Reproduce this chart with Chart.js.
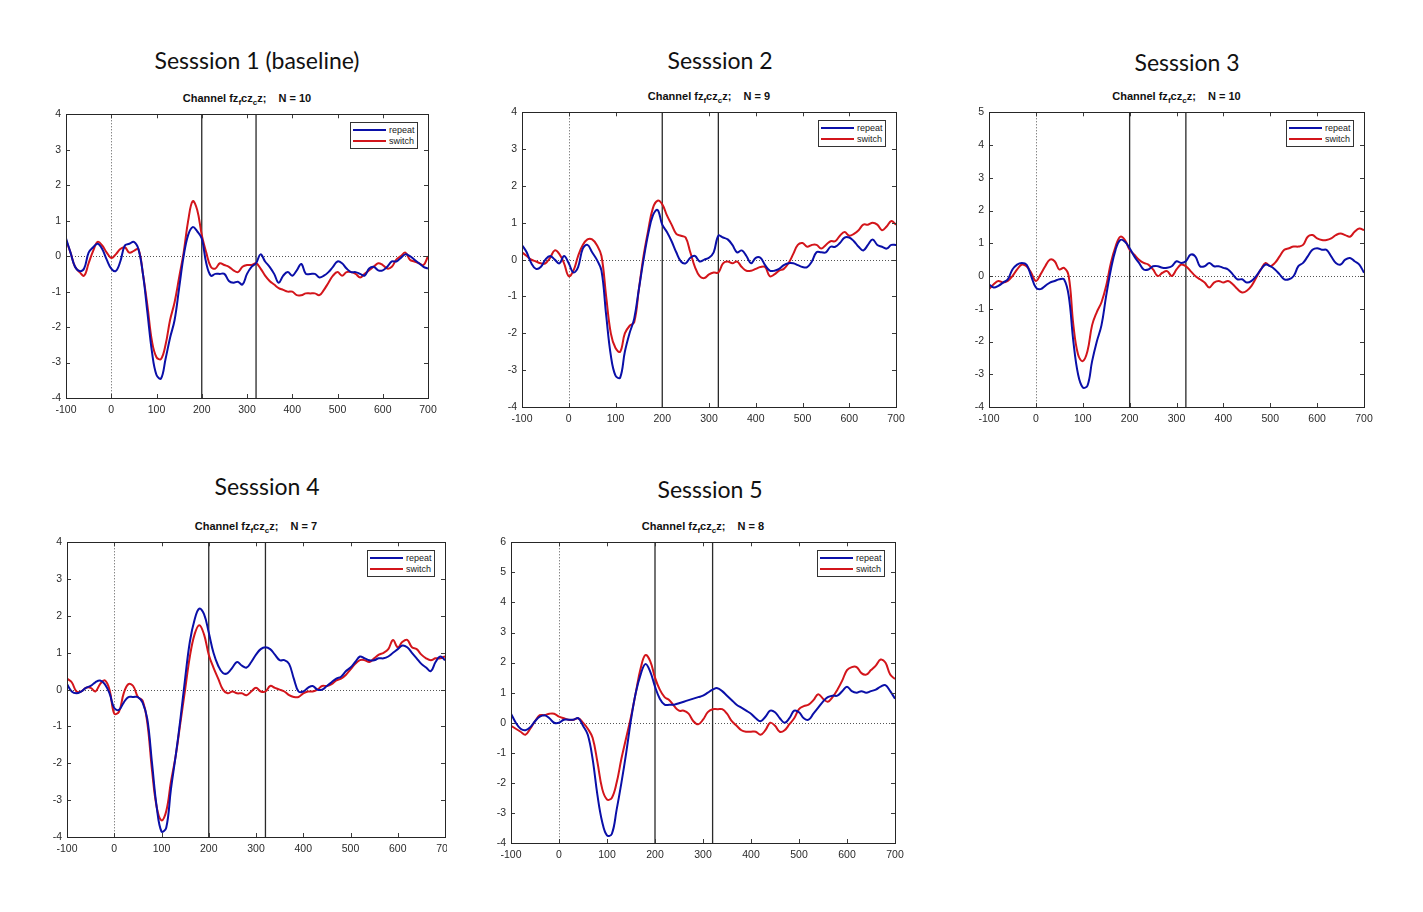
<!DOCTYPE html>
<html>
<head>
<meta charset="utf-8">
<script src="https://cdn.jsdelivr.net/npm/chart.js@4.4.1/dist/chart.umd.min.js"></script>
<style>
  body { margin: 0; background: #fff; width: 1423px; height: 912px; position: relative; overflow: hidden; font-family: "Liberation Sans", Arial, sans-serif; }
  canvas { position: absolute; }
  .session { position: absolute; font-family: Lato, sans-serif; font-size: 23px; color: #111; white-space: nowrap; transform: translate(-50%, -50%); }
  .chan { position: absolute; font-weight: bold; font-size: 11px; color: #111; white-space: nowrap; transform: translate(-50%, -50%); }
  .chan sub { font-size: 8px; vertical-align: -3px; }
  .legend { position: absolute; width: 66px; height: 25px; border: 1px solid #333; background: #fff; font-size: 9px; color: #222; }
  .legend .row { position: absolute; left: 2px; height: 10px; line-height: 10px; }
  .legend .ln { position: absolute; left: 0; top: 4px; width: 33px; height: 2px; }
  .legend .tx { position: absolute; left: 36px; top: 0; }
</style>
</head>
<body>
<script>
// time axis (ms) and tick labels
const TIMES = [-100, -90, -80, -70, -60, -50, -40, -30, -20, -10,
  0, 10, 20, 30, 40, 50, 60, 70, 80, 90,
  100, 110, 120, 130, 140, 150, 160, 170, 180, 190,
  200, 210, 220, 230, 240, 250, 260, 270, 280, 290,
  300, 310, 320, 330, 340, 350, 360, 370, 380, 390,
  400, 410, 420, 430, 440, 450, 460, 470, 480, 490,
  500, 510, 520, 530, 540, 550, 560, 570, 580, 590,
  600, 610, 620, 630, 640, 650, 660, 670, 680, 690, 700];
const X_TICKS = [-100, 0, 100, 200, 300, 400, 500, 600, 700];
const MARKERS = [200, 320];
const SERIES_NAMES = ['repeat', 'switch'];

// Session 1 (baseline), N = 10
const S1_REPEAT = [0.5, 0.1, -0.3, -0.42, -0.35, 0.1, 0.25, 0.35, 0.2, -0.1,
  -0.35, -0.42, -0.15, 0.3, 0.35, 0.4, 0.2, -0.5, -1.6, -2.7,
  -3.35, -3.45, -2.9, -2.3, -1.8, -0.9, 0.0, 0.6, 0.82, 0.7,
  0.5, -0.2, -0.55, -0.5, -0.5, -0.5, -0.7, -0.75, -0.72, -0.8,
  -0.5, -0.3, -0.2, 0.05, -0.15, -0.3, -0.5, -0.75, -0.55, -0.45,
  -0.55, -0.4, -0.22, -0.5, -0.5, -0.5, -0.6, -0.55, -0.45, -0.3,
  -0.15, -0.2, -0.35, -0.45, -0.45, -0.5, -0.55, -0.35, -0.3, -0.4,
  -0.4, -0.3, -0.15, -0.15, -0.05, 0.05, 0.0, -0.1, -0.2, -0.3, -0.35];
const S1_SWITCH = [0.45, 0.1, -0.3, -0.45, -0.55, -0.2, 0.15, 0.4, 0.3, 0.1,
  -0.05, 0.05, 0.2, 0.25, 0.1, 0.15, 0.2, -0.5, -1.4, -2.4,
  -2.85, -2.9, -2.5, -1.8, -1.3, -0.6, 0.1, 1.0, 1.55, 1.3,
  0.6, 0.1, -0.3, -0.35, -0.2, -0.25, -0.3, -0.4, -0.45, -0.3,
  -0.25, -0.25, -0.2, -0.35, -0.55, -0.7, -0.8, -0.9, -0.95, -1.0,
  -1.0, -1.1, -1.1, -1.05, -1.05, -1.05, -1.1, -0.95, -0.75, -0.55,
  -0.45, -0.55, -0.45, -0.45, -0.5, -0.6, -0.5, -0.4, -0.3, -0.2,
  -0.25, -0.35, -0.3, -0.1, 0.0, 0.1, -0.1, -0.15, -0.2, -0.25, 0.0];

// Session 2, N = 9
const S2_REPEAT = [0.4, 0.2, -0.1, -0.25, -0.2, 0.0, 0.1, 0.0, -0.1, 0.1,
  -0.1, -0.35, -0.2, 0.3, 0.4, 0.2, 0.0, -0.3, -1.5, -2.6,
  -3.15, -3.2, -2.5, -2.0, -1.6, -0.8, 0.0, 0.7, 1.2, 1.35,
  0.95, 0.75, 0.5, 0.2, -0.05, -0.1, 0.05, 0.1, -0.05, 0.0,
  0.05, 0.2, 0.65, 0.6, 0.55, 0.4, 0.2, 0.25, 0.1, -0.1,
  0.05, 0.05, -0.15, -0.3, -0.3, -0.25, -0.15, -0.1, -0.1, -0.15,
  -0.2, -0.2, -0.05, 0.2, 0.2, 0.2, 0.35, 0.35, 0.45, 0.6,
  0.6, 0.5, 0.35, 0.25, 0.4, 0.55, 0.4, 0.35, 0.3, 0.4, 0.4];
const S2_SWITCH = [0.2, 0.1, 0.0, -0.05, -0.1, -0.1, 0.05, 0.25, 0.15, -0.1,
  -0.45, -0.3, 0.1, 0.4, 0.55, 0.55, 0.4, 0.1, -1.0, -2.0,
  -2.4, -2.5, -2.0, -1.8, -1.7, -0.8, 0.1, 0.8, 1.4, 1.6,
  1.5, 1.2, 0.95, 0.7, 0.65, 0.6, 0.2, -0.2, -0.45, -0.5,
  -0.4, -0.35, -0.35, -0.1, -0.05, -0.1, -0.05, -0.2, -0.3, -0.3,
  -0.25, -0.2, -0.2, -0.45, -0.4, -0.3, -0.25, -0.1, 0.15, 0.4,
  0.45, 0.35, 0.4, 0.4, 0.3, 0.4, 0.5, 0.5, 0.65, 0.75,
  0.65, 0.7, 0.8, 0.95, 0.95, 1.0, 0.95, 0.8, 0.9, 1.05, 0.95];

// Session 3, N = 10
const S3_REPEAT = [-0.25, -0.35, -0.3, -0.2, -0.1, 0.2, 0.35, 0.4, 0.35, 0.0,
  -0.35, -0.4, -0.3, -0.2, -0.15, -0.1, -0.1, -0.6, -2.0, -3.0,
  -3.4, -3.35, -2.6, -2.0, -1.5, -0.6, 0.2, 0.8, 1.1, 1.05,
  0.85, 0.6, 0.4, 0.2, 0.2, 0.3, 0.3, 0.25, 0.25, 0.3,
  0.45, 0.4, 0.45, 0.65, 0.6, 0.3, 0.3, 0.4, 0.3, 0.3,
  0.25, 0.2, 0.05, -0.1, -0.1, -0.2, -0.15, 0.0, 0.2, 0.35,
  0.3, 0.2, 0.05, -0.1, -0.1, 0.0, 0.3, 0.4, 0.6, 0.8,
  0.85, 0.8, 0.8, 0.6, 0.4, 0.35, 0.5, 0.55, 0.45, 0.35, 0.1];
const S3_SWITCH = [-0.4, -0.25, -0.15, -0.2, -0.15, 0.0, 0.2, 0.35, 0.3, 0.1,
  -0.15, 0.05, 0.3, 0.5, 0.45, 0.2, 0.25, 0.0, -1.5, -2.4,
  -2.6, -2.3, -1.5, -1.1, -0.8, -0.3, 0.4, 0.9, 1.2, 1.1,
  0.8, 0.65, 0.5, 0.4, 0.35, 0.2, 0.0, 0.1, 0.15, 0.0,
  0.2, 0.35, 0.3, 0.15, 0.0, -0.1, -0.2, -0.35, -0.2, -0.15,
  -0.2, -0.15, -0.25, -0.4, -0.5, -0.45, -0.3, -0.05, 0.2, 0.4,
  0.3, 0.4, 0.6, 0.8, 0.85, 0.9, 0.9, 0.95, 1.2, 1.25,
  1.15, 1.1, 1.1, 1.15, 1.25, 1.3, 1.25, 1.2, 1.35, 1.45, 1.4];

// Session 4, N = 7
const S4_REPEAT = [0.15, -0.05, -0.1, -0.05, 0.05, 0.1, 0.2, 0.25, 0.15, -0.1,
  -0.5, -0.55, -0.35, -0.2, -0.2, -0.2, -0.35, -0.8, -2.0, -3.2,
  -3.85, -3.75, -2.7, -1.8, -0.8, 0.3, 1.3, 1.9, 2.2, 2.05,
  1.55, 1.0, 0.65, 0.45, 0.45, 0.6, 0.75, 0.65, 0.6, 0.75,
  0.95, 1.1, 1.15, 1.1, 0.95, 0.8, 0.8, 0.7, 0.3, -0.05,
  -0.05, 0.05, 0.1, 0.0, 0.0, 0.1, 0.2, 0.3, 0.35, 0.5,
  0.6, 0.75, 0.9, 0.85, 0.8, 0.8, 0.85, 0.85, 0.9, 1.0,
  1.1, 1.2, 1.15, 1.0, 0.85, 0.7, 0.6, 0.5, 0.75, 0.9, 0.8];
const S4_SWITCH = [0.3, 0.2, -0.05, -0.05, 0.05, 0.05, -0.05, 0.15, 0.25, 0.0,
  -0.65, -0.6, -0.1, 0.15, 0.1, -0.2, -0.3, -0.9, -2.2, -3.2,
  -3.55, -3.3, -2.5, -1.8, -0.9, 0.0, 0.9, 1.5, 1.75, 1.5,
  0.95, 0.6, 0.3, 0.0, -0.1, -0.05, -0.1, -0.1, -0.15, -0.05,
  0.05, -0.05, -0.05, 0.1, 0.05, 0.0, -0.05, -0.15, -0.2, -0.2,
  -0.1, -0.05, -0.05, 0.0, 0.1, 0.1, 0.15, 0.25, 0.3, 0.4,
  0.55, 0.7, 0.8, 0.8, 0.75, 0.85, 0.95, 1.0, 1.1, 1.35,
  1.15, 1.3, 1.35, 1.15, 1.1, 0.95, 0.85, 0.8, 0.85, 0.85, 0.9];

// Session 5, N = 8
const S5_REPEAT = [0.3, 0.0, -0.2, -0.25, -0.15, 0.05, 0.2, 0.25, 0.15, 0.0,
  0.0, 0.1, 0.1, 0.1, 0.15, -0.1, -0.4, -1.2, -2.4, -3.3,
  -3.75, -3.7, -2.9, -2.0, -1.0, 0.1, 1.0, 1.6, 1.95, 1.7,
  1.2, 0.8, 0.6, 0.6, 0.6, 0.65, 0.7, 0.75, 0.8, 0.85,
  0.9, 1.0, 1.1, 1.15, 1.05, 0.9, 0.75, 0.6, 0.5, 0.4,
  0.3, 0.15, 0.05, 0.2, 0.4, 0.35, 0.15, 0.0, 0.15, 0.4,
  0.35, 0.15, 0.1, 0.3, 0.5, 0.7, 0.85, 0.9, 0.9, 1.05,
  1.2, 1.05, 1.0, 1.05, 1.0, 1.05, 1.1, 1.2, 1.25, 1.05, 0.8];
const S5_SWITCH = [-0.1, -0.2, -0.3, -0.4, -0.2, 0.05, 0.25, 0.25, 0.3, 0.3,
  0.2, 0.15, 0.1, 0.1, 0.15, 0.0, -0.2, -0.5, -1.3, -2.2,
  -2.55, -2.5, -2.0, -1.2, -0.5, 0.2, 1.0, 1.8, 2.25, 2.05,
  1.5, 1.1, 0.85, 0.75, 0.55, 0.4, 0.4, 0.3, 0.05, -0.05,
  0.1, 0.35, 0.45, 0.45, 0.45, 0.3, 0.05, -0.1, -0.25, -0.3,
  -0.3, -0.3, -0.4, -0.25, 0.0, -0.1, -0.3, -0.25, -0.05, 0.15,
  0.45, 0.55, 0.6, 0.75, 0.95, 0.8, 0.7, 0.85, 1.1, 1.4,
  1.75, 1.85, 1.85, 1.65, 1.6, 1.75, 1.9, 2.1, 2.0, 1.6, 1.45];

const BLUE = '#0a0fa8';
const RED = '#d3151b';
const TICK_FONT = { family: '"Liberation Sans", Arial, sans-serif', size: 10.5 };

// plot box in page pixels + y range for each panel
// (panel 4 is cut off on the right in the original, clipX mimics that)
const panels = [
  { title: 'Sesssion 1 (baseline)', tx: 257, ty: 60, n: 10, left: 66, right: 428, top: 113, bottom: 398, ymin: -4, ymax: 4, rep: S1_REPEAT, sw: S1_SWITCH },
  { title: 'Sesssion 2', tx: 720, ty: 60, n: 9, left: 522, right: 896, top: 111, bottom: 407, ymin: -4, ymax: 4, rep: S2_REPEAT, sw: S2_SWITCH },
  { title: 'Sesssion 3', tx: 1187, ty: 62, n: 10, left: 989, right: 1364, top: 111, bottom: 407, ymin: -4, ymax: 5, rep: S3_REPEAT, sw: S3_SWITCH },
  { title: 'Sesssion 4', tx: 267, ty: 486, n: 7, left: 67, right: 445, top: 541, bottom: 837, ymin: -4, ymax: 4, rep: S4_REPEAT, sw: S4_SWITCH, clipX: 447 },
  { title: 'Sesssion 5', tx: 710, ty: 489, n: 8, left: 511, right: 895, top: 541, bottom: 843, ymin: -4, ymax: 6, rep: S5_REPEAT, sw: S5_SWITCH }
];

const Y_W = 32, PAD_TOP = 10, PAD_RIGHT = 18, X_H = 22;

// MATLAB-like box, inward ticks, dotted zero lines and the two marker lines
const axesDecor = {
  id: 'axesDecor',
  beforeDatasetsDraw(chart) {
    const { ctx, chartArea: a, scales: { x, y } } = chart;
    ctx.save();
    ctx.strokeStyle = '#555';
    ctx.lineWidth = 1;
    ctx.setLineDash([1, 2]);
    const y0 = Math.round(y.getPixelForValue(0)) + 0.5;
    const x0 = Math.round(x.getPixelForValue(0)) + 0.5;
    ctx.beginPath();
    ctx.moveTo(a.left, y0); ctx.lineTo(a.right, y0);
    ctx.moveTo(x0, a.top); ctx.lineTo(x0, a.bottom);
    ctx.stroke();
    ctx.setLineDash([]);
    ctx.strokeStyle = '#2a2a2a';
    ctx.lineWidth = 1.3;
    ctx.beginPath();
    MARKERS.forEach(m => {
      const px = x.getPixelForValue(m);
      ctx.moveTo(px, a.top); ctx.lineTo(px, a.bottom);
    });
    ctx.stroke();
    ctx.restore();
  },
  afterDatasetsDraw(chart) {
    const { ctx, chartArea: a, scales: { x, y } } = chart;
    ctx.save();
    ctx.strokeStyle = '#3a3a3a';
    ctx.lineWidth = 1;
    ctx.beginPath();
    x.ticks.forEach(t => {
      const px = Math.round(x.getPixelForValue(t.value)) + 0.5;
      ctx.moveTo(px, a.bottom); ctx.lineTo(px, a.bottom - 4);
      ctx.moveTo(px, a.top); ctx.lineTo(px, a.top + 4);
    });
    y.ticks.forEach(t => {
      const py = Math.round(y.getPixelForValue(t.value)) + 0.5;
      ctx.moveTo(a.left, py); ctx.lineTo(a.left + 4, py);
      ctx.moveTo(a.right, py); ctx.lineTo(a.right - 4, py);
    });
    ctx.stroke();
    ctx.strokeStyle = '#262626';
    ctx.strokeRect(Math.round(a.left) + 0.5, Math.round(a.top) + 0.5, Math.round(a.right - a.left), Math.round(a.bottom - a.top));
    ctx.restore();
  }
};

function addEl(cls, html, left, top) {
  const d = document.createElement('div');
  d.className = cls;
  d.innerHTML = html;
  d.style.left = left + 'px';
  d.style.top = top + 'px';
  document.body.appendChild(d);
  return d;
}

panels.forEach(p => {
  addEl('session', p.title, p.tx, p.ty);
  addEl('chan', 'Channel fz<sub>f</sub>cz<sub>c</sub>z;&nbsp;&nbsp;&nbsp;&nbsp;N = ' + p.n, (p.left + p.right) / 2, p.top - 14);

  const canvas = document.createElement('canvas');
  const w = (p.right - p.left) + Y_W + PAD_RIGHT;
  const h = (p.bottom - p.top) + PAD_TOP + X_H;
  const cx = p.left - Y_W;
  canvas.width = w; canvas.height = h;
  canvas.style.width = w + 'px'; canvas.style.height = h + 'px';
  canvas.style.left = cx + 'px';
  canvas.style.top = (p.top - PAD_TOP) + 'px';
  if (p.clipX) canvas.style.clipPath = 'inset(0 ' + (cx + w - p.clipX) + 'px 0 0)';
  document.body.appendChild(canvas);

  new Chart(canvas.getContext('2d'), {
    type: 'line',
    data: {
      datasets: [
        { label: SERIES_NAMES[0], data: TIMES.map((t, i) => ({ x: t, y: p.rep[i] })), borderColor: BLUE, borderWidth: 2, pointRadius: 0, tension: 0.4, fill: false },
        { label: SERIES_NAMES[1], data: TIMES.map((t, i) => ({ x: t, y: p.sw[i] })), borderColor: RED, borderWidth: 2, pointRadius: 0, tension: 0.4, fill: false }
      ]
    },
    options: {
      responsive: false,
      animation: false,
      devicePixelRatio: 1,
      layout: { autoPadding: false, padding: { top: PAD_TOP, right: PAD_RIGHT, left: 0, bottom: 0 } },
      plugins: { legend: { display: false }, tooltip: { enabled: false } },
      scales: {
        x: {
          type: 'linear', min: -100, max: 700,
          afterFit(s) { s.height = X_H; },
          afterBuildTicks(s) { s.ticks = X_TICKS.map(v => ({ value: v })); },
          grid: { display: false, drawTicks: false }, border: { display: false },
          ticks: { font: TICK_FONT, color: '#2a2a2a', padding: 6, maxRotation: 0, autoSkip: false }
        },
        y: {
          min: p.ymin, max: p.ymax,
          afterFit(s) { s.width = Y_W; },
          grid: { display: false, drawTicks: false }, border: { display: false },
          ticks: { stepSize: 1, font: TICK_FONT, color: '#2a2a2a', padding: 5 }
        }
      }
    },
    plugins: [axesDecor]
  });

  // legend box, top right inside the axes
  const lg = addEl('legend', '', p.right - 10 - 68, p.top + 9);
  [[SERIES_NAMES[0], BLUE, 2], [SERIES_NAMES[1], RED, 13]].forEach(([name, col, top]) => {
    const r = document.createElement('div');
    r.className = 'row';
    r.style.top = top + 'px';
    r.innerHTML = '<span class="ln" style="background:' + col + '"></span><span class="tx">' + name + '</span>';
    lg.appendChild(r);
  });
});
</script>
</body>
</html>
